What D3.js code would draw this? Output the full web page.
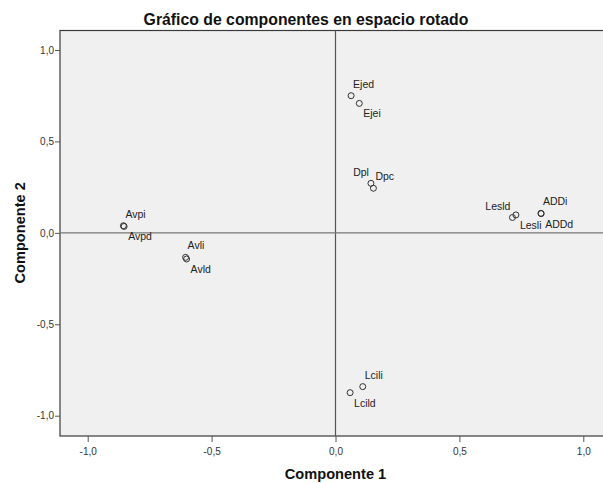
<!DOCTYPE html>
<html>
<head>
<meta charset="utf-8">
<script src="https://cdn.jsdelivr.net/npm/d3@7"></script>
<style>
  body { margin: 0; background: #fff; }
  svg { display: block; font-family: "Liberation Sans", Arial, sans-serif; }
</style>
</head>
<body>
<svg id="chart"></svg>
<script>
// Datos de las cargas rotadas
const labels = ['Avpi', 'Avpd', 'Avli', 'Avld', 'Ejed', 'Ejei', 'Dpl', 'Dpc', 'Lesld', 'Lesli', 'ADDi', 'ADDd', 'Lcili', 'Lcild'];
const comp1 = [-0.856, -0.853, -0.605, -0.601, 0.063, 0.096, 0.143, 0.153, 0.714, 0.728, 0.829, 0.830, 0.110, 0.059];
const comp2 = [0.039, 0.035, -0.134, -0.143, 0.750, 0.708, 0.271, 0.244, 0.084, 0.098, 0.107, 0.105, -0.841, -0.874];
// ur = arriba derecha, lr = abajo derecha, ul = arriba izquierda
const placement = ['ur', 'lr', 'ur', 'lr', 'ur', 'lr', 'ul', 'ur', 'ul', 'lr', 'ur', 'lr', 'ur', 'lr'];
const ticks = [-1.0, -0.5, 0.0, 0.5, 1.0];

const width = 603, height = 483;
const marginLeft = 60, marginTop = 30.5, plotBottom = 436;

const svg = d3.select('#chart').attr('width', width).attr('height', height);

// escalas calibradas sobre las marcas -1 y 1
const x = d3.scaleLinear([-1, 1], [87.7, 583.3]);
const y = d3.scaleLinear([-1, 1], [415.7, 50]);
const x0 = x.invert(marginLeft), x1 = 1.111;
const xRight = x(x1);
const y0 = y.invert(plotBottom), y1 = y.invert(marginTop);
x.domain([x0, x1]).range([marginLeft, xRight]);
y.domain([y0, y1]).range([plotBottom, marginTop]);

const fmt = (v) => d3.format('.1f')(v).replace('.', ',').replace('−', '-');

// fondo del área
svg.append('rect')
  .attr('x', marginLeft).attr('y', marginTop)
  .attr('width', xRight - marginLeft).attr('height', plotBottom - marginTop)
  .attr('fill', '#f0f0f0').attr('stroke', '#3a3a3a').attr('stroke-width', 1.2);

// líneas de referencia en 0
svg.append('line')
  .attr('x1', x(0)).attr('x2', x(0)).attr('y1', marginTop).attr('y2', plotBottom)
  .attr('stroke', '#555').attr('stroke-width', 1.2);
svg.append('line')
  .attr('x1', marginLeft).attr('x2', xRight).attr('y1', y(0)).attr('y2', y(0))
  .attr('stroke', '#777').attr('stroke-width', 1.2);

// ejes
const xAxis = d3.axisBottom(x).tickValues(ticks).tickFormat(fmt).tickSize(6).tickSizeOuter(0);
svg.append('g')
  .attr('transform', `translate(0,${plotBottom})`)
  .call(xAxis)
  .call((g) => g.select('.domain').remove())
  .call((g) => g.selectAll('.tick line').attr('stroke', '#555'))
  .call((g) => g.selectAll('.tick text').attr('fill', '#333').attr('font-size', 10).attr('dy', '0.95em'));

const yAxis = d3.axisLeft(y).tickValues(ticks).tickFormat(fmt).tickSize(5).tickSizeOuter(0);
svg.append('g')
  .attr('transform', `translate(${marginLeft},0)`)
  .call(yAxis)
  .call((g) => g.select('.domain').remove())
  .call((g) => g.selectAll('.tick line').attr('stroke', '#555'))
  .call((g) => g.selectAll('.tick text').attr('fill', '#333').attr('font-size', 10).attr('x', -6));
svg.selectAll('g').attr('font-family', null);

// puntos
const idx = d3.range(labels.length);
svg.append('g')
  .selectAll('circle')
  .data(idx)
  .join('circle')
  .attr('cx', (i) => x(comp1[i]))
  .attr('cy', (i) => y(comp2[i]))
  .attr('r', 3)
  .attr('fill', 'none')
  .attr('stroke', '#333')
  .attr('stroke-width', 1);

const offsets = { ur: [2, -8, 'start'], lr: [4, 14, 'start'], ul: [-2, -7, 'end'] };
svg.append('g')
  .selectAll('text')
  .data(idx)
  .join('text')
  .attr('x', (i) => x(comp1[i]) + offsets[placement[i]][0])
  .attr('y', (i) => y(comp2[i]) + offsets[placement[i]][1])
  .attr('text-anchor', (i) => offsets[placement[i]][2])
  .attr('font-size', 10.5)
  .attr('fill', '#222')
  .text((i) => labels[i]);

// títulos
svg.append('text')
  .attr('x', 306).attr('y', 25)
  .attr('text-anchor', 'middle')
  .attr('font-size', 15.8).attr('font-weight', 'bold').attr('fill', '#111')
  .text('Gráfico de componentes en espacio rotado');

svg.append('text')
  .attr('x', x(0)).attr('y', 479)
  .attr('text-anchor', 'middle')
  .attr('font-size', 14.6).attr('font-weight', 'bold').attr('fill', '#111')
  .text('Componente 1');

svg.append('text')
  .attr('transform', `translate(25,${y(0)}) rotate(-90)`)
  .attr('text-anchor', 'middle')
  .attr('font-size', 14.6).attr('font-weight', 'bold').attr('fill', '#111')
  .text('Componente 2');
</script>
</body>
</html>
